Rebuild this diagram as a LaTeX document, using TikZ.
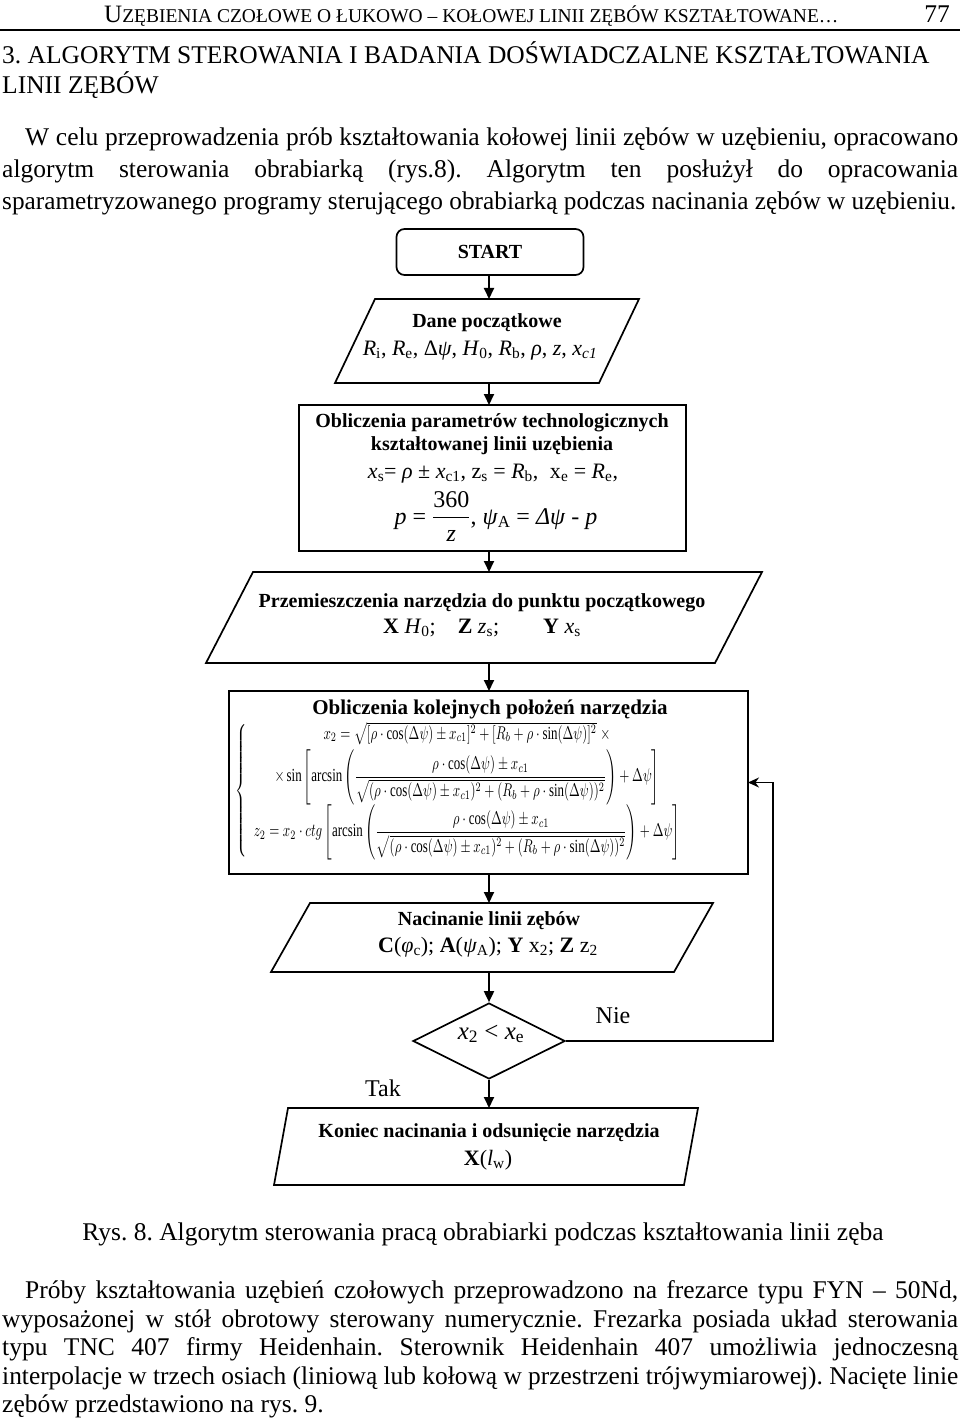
\documentclass[tikz,border=0pt]{standalone}
\usepackage{fontspec}
\setmainfont{Liberation Serif}
\usepackage{amsmath}
\usepackage{graphicx}
\usetikzlibrary{arrows.meta,calc,shapes.geometric}
\frenchspacing

\newcommand\fsz[1]{\fontsize{#1}{#1}\selectfont}
\newsavebox\jbox
\newcommand\jline[2]{\sbox\jbox{#2}\ifdim\wd\jbox>#1\relax\resizebox{#1}{\height}{\usebox\jbox}\else\hbox to #1{\unhcopy\jbox}\fi}
\newcommand\fracpart{\dfrac{\rho\cdot\cos(\Delta\psi)\pm x_{c1}}{\sqrt{(\rho\cdot\cos(\Delta\psi)\pm x_{c1})^2+(R_b+\rho\cdot\sin(\Delta\psi))^2}}}
\newcommand\drawpara[2]{\draw[shp] ($(#1.north west)+(#2/2,0)$) -- ($(#1.north east)+(#2/2,0)$) -- ($(#1.south east)-(#2/2,0)$) -- ($(#1.south west)-(#2/2,0)$) -- cycle;}

\begin{document}
\begin{tikzpicture}[x=1pt,y=-1pt,
  txt/.style={inner sep=0pt, anchor=base west, font=\fsz{25.5}},
  lbl/.style={inner sep=0pt, anchor=base, font=\fsz{20}\bfseries},
  val/.style={inner sep=0pt, anchor=base, font=\fsz{22}},
  shp/.style={draw, line width=1.7pt},
  box/.style={inner sep=0pt, outer sep=0pt},
  arr/.style={-{Triangle[length=11pt,width=10pt]}, line width=1.8pt},
  loop/.style={-{Stealth[length=11pt,width=10pt]}, line width=1.4pt}]
\useasboundingbox (0,0) rectangle (960,1420);
\fill[white] (0,0) rectangle (960,1420);

% ---------- page header ----------
\node[inner sep=0pt, anchor=base west] (hdr) at (104,23) {\fsz{25}U\fsz{19.5}ZĘBIENIA CZOŁOWE O ŁUKOWO – KOŁOWEJ LINII ZĘBÓW KSZTAŁTOWANE…};
\node[inner sep=0pt, anchor=base east] (pg) at (950,23) {\fsz{25.5}77};
\draw[line width=1.2pt] (0,30) -- (960,30);

\node[txt] (sec1) at (2,64) {3. ALGORYTM STEROWANIA I BADANIA DOŚWIADCZALNE KSZTAŁTOWANIA};
\node[txt] (sec2) at (2,94) {LINII ZĘBÓW};

\node[txt] (p1a) at (25,146) {\jline{933pt}{W celu przeprowadzenia prób kształtowania kołowej linii zębów w uzębieniu, opracowano}};
\node[txt] (p1b) at (2,178) {\jline{956pt}{algorytm sterowania obrabiarką (rys.8). Algorytm ten posłużył do opracowania}};
\node[txt] (p1c) at (2,210) {\jline{954pt}{sparametryzowanego programy sterującego obrabiarką podczas nacinania zębów w uzębieniu.}};

% ---------- flowchart ----------
\coordinate (axis) at (489,0);

\node[shp, rounded corners=8pt, minimum width=187pt, minimum height=46pt, inner sep=0pt] (start) at (490,252) {\fsz{20}\bfseries START};

\node[box, minimum width=264pt, minimum height=84pt] (dane) at (487,341) {};
\drawpara{dane}{40}
\node[lbl] (daneT) at (487,327) {Dane początkowe};
\node[val] (daneV) at (480,355) {\textit{R}\textsubscript{i}, \textit{R}\textsubscript{e}, Δ\textit{ψ}, \textit{H}\textsubscript{0}, \textit{R}\textsubscript{b}, \textit{ρ}, \textit{z}, \textit{x}\textsubscript{\textit{c1}}};

\node[shp, box, minimum width=387pt, minimum height=146pt] (calc1) at (492.5,478) {};
\node[lbl] (calcT1) at (492,427) {Obliczenia parametrów technologicznych};
\node[lbl] (calcT2) at (492,450) {kształtowanej linii uzębienia};
\node[val] (calcV1) at (493,478) {\textit{x}\textsubscript{s}= \textit{ρ} ± \textit{x}\textsubscript{c1}, z\textsubscript{s} = \textit{R}\textsubscript{b},\; x\textsubscript{e} = \textit{R}\textsubscript{e},};
\node[inner sep=0pt, anchor=base, font=\fsz{24}] (calcV2) at (496,524) {$\mbox{\itshape p}\mbox{ = }\dfrac{\mbox{360}}{\mbox{\itshape z}}$, \textit{ψ}\textsubscript{A} = \textit{Δψ} - \textit{p}};

\node[box, minimum width=509pt, minimum height=91pt] (przem) at (484,617.5) {};
\drawpara{przem}{47}
\node[lbl] (przemT) at (482,607) {Przemieszczenia narzędzia do punktu początkowego};
\node[val] (przemV) at (482,633) {\textbf{X} \textit{H}\textsubscript{0};\quad \textbf{Z} \textit{z}\textsubscript{s};\qquad \textbf{Y} \textit{x}\textsubscript{s}};

\node[shp, box, minimum width=519pt, minimum height=183pt] (form) at (488.5,782.5) {};
\node[inner sep=0pt, anchor=base, font=\fsz{21}\bfseries] (formT) at (490,714) {Obliczenia kolejnych położeń narzędzia};
\node[inner sep=0pt] (formV) at (462,791) {\resizebox*{452pt}{138pt}{$\left\{\begin{array}{c}
x_2=\sqrt{[\rho\cdot\cos(\Delta\psi)\pm x_{c1}]^2+[R_b+\rho\cdot\sin(\Delta\psi)]^2}\;\times\\[2pt]
\times\sin\left[\arcsin\left(\fracpart\right)+\Delta\psi\right]\\[2pt]
z_2=x_2\cdot ctg\left[\arcsin\left(\fracpart\right)+\Delta\psi\right]
\end{array}\right.$}};

\node[box, minimum width=403pt, minimum height=69pt] (nac) at (492,937.5) {};
\drawpara{nac}{39}
\node[lbl] (nacT) at (489,925) {Nacinanie linii zębów};
\node[val] (nacV) at (488,952) {\textbf{C}(\textit{φ}\textsubscript{c}); \textbf{A}(\textit{ψ}\textsubscript{A}); \textbf{Y} x\textsubscript{2}; \textbf{Z} z\textsubscript{2}};

\node[shp, diamond, inner sep=0pt, minimum width=152pt, minimum height=76pt] (dec) at (489,1041) {};
\node[inner sep=0pt, anchor=base, font=\fsz{25}] (decT) at (491,1039) {\textit{x}\textsubscript{2} < \textit{x}\textsubscript{e}};
\node[inner sep=0pt, anchor=base, font=\fsz{24}] (nie) at (613,1023) {Nie};
\node[inner sep=0pt, anchor=base, font=\fsz{24}] (tak) at (383,1096) {Tak};

\node[box, minimum width=410pt, minimum height=77pt] (kon) at (486,1146.5) {};
\drawpara{kon}{14}
\node[lbl] (konT) at (489,1137) {Koniec nacinania i odsunięcie narzędzia};
\node[val] (konV) at (488,1165) {\textbf{X}(\textit{l}\textsubscript{w})};

% connectors
\draw[arr] (start.south -| axis) -- (dane.north -| axis);
\draw[arr] (dane.south -| axis) -- (calc1.north -| axis);
\draw[arr] (calc1.south -| axis) -- (przem.north -| axis);
\draw[arr] (przem.south -| axis) -- (form.north -| axis);
\draw[arr] (form.south -| axis) -- (nac.north -| axis);
\draw[arr] (nac.south -| axis) -- (dec.north);
\draw[arr] (dec.south) -- (kon.north -| axis);
\coordinate (loopc) at ($(form.east)+(25,0)$);
\draw[loop] (dec.east) -| (loopc) -- (form.east);

% ---------- caption and text ----------
\node[inner sep=0pt, anchor=base, font=\fsz{25.5}] (cap) at (483,1240) {Rys. 8. Algorytm sterowania pracą obrabiarki podczas kształtowania linii zęba};

\node[txt] (p2a) at (25,1298) {\jline{933pt}{Próby kształtowania uzębień czołowych przeprowadzono na frezarce typu FYN – 50Nd,}};
\node[txt] (p2b) at (2,1327) {\jline{956pt}{wyposażonej w stół obrotowy sterowany numerycznie. Frezarka posiada układ sterowania}};
\node[txt] (p2c) at (2,1355) {\jline{956pt}{typu TNC 407 firmy Heidenhain. Sterownik Heidenhain 407 umożliwia jednoczesną}};
\node[txt] (p2d) at (2,1384) {\jline{956pt}{interpolacje w trzech osiach (liniową lub kołową w przestrzeni trójwymiarowej). Nacięte linie}};
\node[txt] (p2e) at (2,1412) {zębów przedstawiono na rys. 9.};
\end{tikzpicture}
\end{document}
